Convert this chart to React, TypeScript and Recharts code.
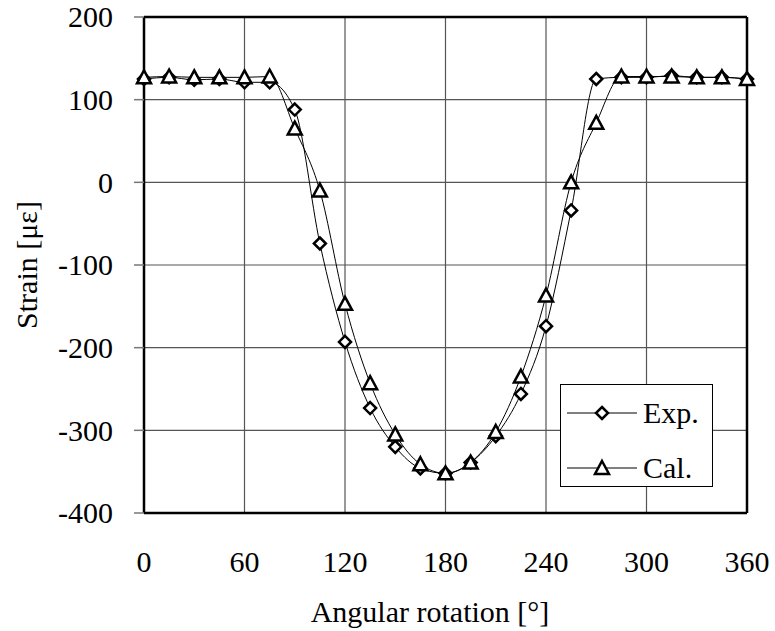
import React from 'react';
import { LineChart, Line, XAxis, YAxis, CartesianGrid, ReferenceLine, Label } from 'recharts';

const angles = [0, 15, 30, 45, 60, 75, 90, 105, 120, 135, 150, 165, 180, 195, 210, 225, 240, 255, 270, 285, 300, 315, 330, 345, 360];
const expStrain = [125, 127, 124, 125, 121, 121, 88, -74, -193, -273, -320, -346, -352, -339, -307, -256, -174, -34, 125, 127, 127, 129, 127, 127, 125];
const calStrain = [127, 128, 127, 127, 127, 128, 65, -10, -147, -243, -305, -341, -352, -339, -302, -235, -137, 0, 72, 128, 128, 128, 127, 127, 125];
const xTicks = [0, 60, 120, 180, 240, 300, 360];
const yTicks = [-400, -300, -200, -100, 0, 100, 200];

const FONT = "'Liberation Serif', 'Times New Roman', serif";
const textStyle = { fontFamily: FONT, fontSize: 30, fill: '#000' };

const chartData = angles.map((a, i) => ({ angle: a, exp: expStrain[i], cal: calStrain[i] }));

// hollow diamond marker
const Diamond = ({ cx, cy }: any) => {
  if (cx == null || cy == null) return null;
  const r = 6;
  return (
    <path
      d={`M${cx},${cy - r}L${cx + r},${cy}L${cx},${cy + r}L${cx - r},${cy}Z`}
      fill="#fff"
      stroke="#000"
      strokeWidth={2.5}
    />
  );
};

// hollow triangle marker
const Triangle = ({ cx, cy }: any) => {
  if (cx == null || cy == null) return null;
  return (
    <path
      d={`M${cx},${cy - 7}L${cx + 7},${cy + 6}L${cx - 7},${cy + 6}Z`}
      fill="#fff"
      stroke="#000"
      strokeWidth={2.5}
    />
  );
};

const XTick = ({ x, y, payload }: any) => (
  <text x={x} y={y} dy="0.71em" textAnchor="middle" style={textStyle}>
    {payload.value}
  </text>
);

const YTick = ({ x, y, payload }: any) => (
  <text x={x} y={y} dy="0.34em" textAnchor="end" style={textStyle}>
    {payload.value}
  </text>
);

const LegendBox = () => (
  <div
    style={{
      position: 'absolute',
      left: 560,
      top: 384,
      width: 153,
      height: 103,
      border: '1.5px solid #000',
      background: '#fff',
      boxSizing: 'border-box',
    }}
  >
    <svg width={150} height={100} style={{ display: 'block' }}>
      <line x1={6} y1={28} x2={76} y2={28} stroke="#000" strokeWidth={1} />
      <Diamond cx={41} cy={28} />
      <text x={82} y={38} style={textStyle}>Exp.</text>
      <line x1={6} y1={83} x2={76} y2={83} stroke="#000" strokeWidth={1} />
      <Triangle cx={41} cy={83} />
      <text x={82} y={93} style={textStyle}>Cal.</text>
    </svg>
  </div>
);

export default function App() {
  return (
    <div style={{ position: 'absolute', left: 0, top: 0, width: 775, height: 631, background: '#fff', fontFamily: FONT }}>
      <LineChart width={775} height={631} data={chartData} margin={{ top: 17, right: 28, left: 0, bottom: 0 }}>
        <CartesianGrid stroke="#555" strokeWidth={1.2} />
        <XAxis
          dataKey="angle"
          type="number"
          domain={[0, 360]}
          ticks={xTicks}
          height={118}
          tickLine={false}
          tickSize={0}
          tickMargin={38}
          axisLine={{ stroke: '#000', strokeWidth: 2.5 }}
          tick={<XTick />}
        >
          <Label
            content={() => (
              <text x={430} y={622} textAnchor="middle" style={textStyle}>
                Angular rotation [°]
              </text>
            )}
          />
        </XAxis>
        <YAxis
          type="number"
          domain={[-400, 200]}
          ticks={yTicks}
          width={144}
          tickSize={10}
          tickMargin={21}
          tickLine={{ stroke: '#777', strokeWidth: 1.5 }}
          axisLine={{ stroke: '#000', strokeWidth: 2.5 }}
          tick={<YTick />}
        >
          <Label
            content={() => (
              <text x={37} y={265} textAnchor="middle" style={textStyle} transform="rotate(-90 37 265)">
                Strain [με]
              </text>
            )}
          />
        </YAxis>
        <ReferenceLine y={200} stroke="#000" strokeWidth={2.5} />
        <ReferenceLine x={360} stroke="#000" strokeWidth={2.5} />
        <Line
          type="monotone"
          dataKey="exp"
          name="Exp."
          stroke="#000"
          strokeWidth={1}
          dot={<Diamond />}
          activeDot={false}
          isAnimationActive={false}
        />
        <Line
          type="monotone"
          dataKey="cal"
          name="Cal."
          stroke="#000"
          strokeWidth={1}
          dot={<Triangle />}
          activeDot={false}
          isAnimationActive={false}
        />
      </LineChart>
      <LegendBox />
    </div>
  );
}
